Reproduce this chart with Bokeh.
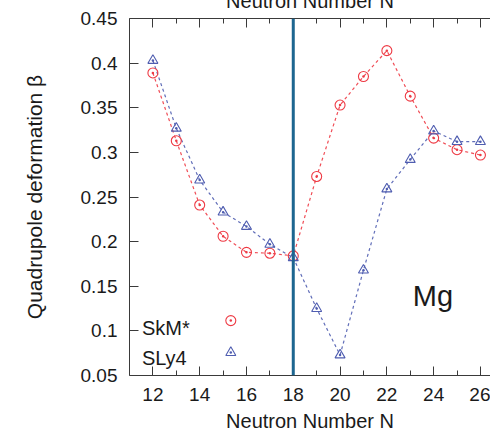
from bokeh.plotting import figure
from bokeh.models import Span, Label, LinearAxis, FixedTicker, Range1d
from bokeh.embed import file_html
from bokeh.resources import INLINE

# ---------------- data ----------------
neutron_N = [12, 13, 14, 15, 16, 17, 18, 19, 20, 21, 22, 23, 24, 25, 26]
skm_beta = [0.389, 0.313, 0.241, 0.206, 0.188, 0.187, 0.184, 0.273, 0.353,
            0.385, 0.414, 0.363, 0.316, 0.303, 0.297]
sly4_beta = [0.403, 0.327, 0.269, 0.233, 0.217, 0.197, 0.182, 0.125, 0.073,
             0.168, 0.259, 0.292, 0.324, 0.312, 0.312]
series_names = ["SkM*", "SLy4"]
shell_closure_N = 18
x_major_ticks = [12, 14, 16, 18, 20, 22, 24, 26]
x_minor_ticks = [13, 15, 17, 19, 21, 23, 25]
y_ticks = [0.05, 0.1, 0.15, 0.2, 0.25, 0.3, 0.35, 0.4, 0.45]
y_tick_labels = ["0.05", "0.1", "0.15", "0.2", "0.25", "0.3", "0.35", "0.4", "0.45"]
x_title = "Neutron Number N"
y_title = "Quadrupole deformation \u03b2"
element_label = "Mg"

# ---------------- style ----------------
FONT = "Liberation Sans"
RED = "#ee3a44"
BLUE = "#4f5db0"
AXIS = "#3a3a3a"
TXT = "#1a1a1a"
TOP_SHIFT = 14   # the top title of the reference is cut by the page edge

p = figure(width=490, height=435 + TOP_SHIFT, output_backend="svg", toolbar_location=None,
           x_range=Range1d(11, 26.43), y_range=Range1d(0.05, 0.45),
           min_border_left=129, min_border_right=0, min_border_top=18 + TOP_SHIFT,
           min_border_bottom=60)
p.margin = (-TOP_SHIFT, 0, 0, 0)
p.outline_line_color = None
p.grid.visible = False
p.background_fill_color = "white"
p.border_fill_color = "white"

# bottom axis
xa = p.xaxis[0]
xa.ticker = FixedTicker(ticks=x_major_ticks, minor_ticks=x_minor_ticks)
xa.major_tick_in = 9
xa.major_tick_out = 0
xa.minor_tick_in = 5
xa.minor_tick_out = 0
xa.axis_line_color = AXIS
xa.major_tick_line_color = AXIS
xa.minor_tick_line_color = AXIS
xa.major_label_text_font = FONT
xa.major_label_text_font_size = "19px"
xa.major_label_text_color = TXT
xa.major_label_standoff = 12
xa.axis_label = x_title
xa.axis_label_text_font = FONT
xa.axis_label_text_font_size = "20px"
xa.axis_label_text_font_style = "normal"
xa.axis_label_text_color = TXT
xa.axis_label_standoff = 6

# top axis (ticks only, title cut by the page edge)
top = LinearAxis(ticker=FixedTicker(ticks=x_major_ticks, minor_ticks=x_minor_ticks))
top.major_tick_in = 9
top.major_tick_out = 0
top.minor_tick_in = 5
top.minor_tick_out = 0
top.axis_line_color = AXIS
top.major_tick_line_color = AXIS
top.minor_tick_line_color = AXIS
top.major_label_overrides = {t: "" for t in x_major_ticks}
top.major_label_text_font_size = "1px"
top.major_label_standoff = 0
top.axis_label = x_title
top.axis_label_text_font = FONT
top.axis_label_text_font_size = "20px"
top.axis_label_text_font_style = "normal"
top.axis_label_text_color = TXT
top.axis_label_standoff = 7
p.add_layout(top, "above")

# left axis
ya = p.yaxis[0]
ya.ticker = FixedTicker(ticks=y_ticks)
ya.major_label_overrides = {t: s for t, s in zip(y_ticks, y_tick_labels)}
ya.major_tick_in = 9
ya.major_tick_out = 0
ya.minor_tick_line_color = None
ya.axis_line_color = AXIS
ya.major_tick_line_color = AXIS
ya.major_label_text_font = FONT
ya.major_label_text_font_size = "19px"
ya.major_label_text_color = TXT
ya.major_label_standoff = 12
ya.axis_label = y_title
ya.axis_label_text_font = FONT
ya.axis_label_text_font_size = "21px"
ya.axis_label_text_font_style = "normal"
ya.axis_label_text_color = TXT
ya.axis_label_standoff = 32

# vertical line at N = 18
p.add_layout(Span(location=shell_closure_N, dimension="height",
                  line_color="#1d6690", line_width=3))

# series
p.line(neutron_N, skm_beta, line_color=RED, line_width=1.2, line_dash="3 3", line_alpha=0.9)
p.line(neutron_N, sly4_beta, line_color=BLUE, line_width=1.2, line_dash="3 3", line_alpha=0.9)
p.scatter(neutron_N, skm_beta, marker="circle_dot", size=10, line_color=RED,
          fill_color=None, line_width=1.1)
p.scatter(neutron_N, sly4_beta, marker="triangle_dot", size=10, line_color=BLUE,
          fill_color=None, line_width=1.1)

# legend (text left, sample right, as in the reference)
p.add_layout(Label(x=11.53, y=0.1036, text=series_names[0], text_font=FONT,
                   text_font_size="20px", text_color=TXT, text_baseline="alphabetic"))
p.add_layout(Label(x=11.53, y=0.0700, text=series_names[1], text_font=FONT,
                   text_font_size="20px", text_color=TXT, text_baseline="alphabetic"))
p.scatter([15.33], [0.1115], marker="circle_dot", size=10, line_color=RED,
          fill_color=None, line_width=1.1)
p.scatter([15.33], [0.0757], marker="triangle_dot", size=10, line_color=BLUE,
          fill_color=None, line_width=1.1)

# element label
p.add_layout(Label(x=23.11, y=0.1395, text=element_label, text_font=FONT,
                   text_font_size="29px", text_color=TXT, text_baseline="alphabetic"))

open("out.html", "w").write(file_html(p, INLINE))
